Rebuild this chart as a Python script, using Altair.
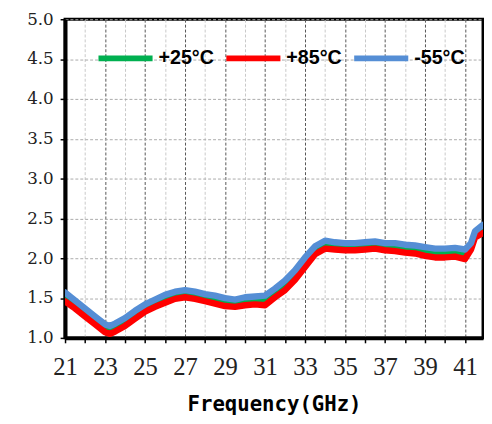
import altair as alt
import pandas as pd

freq = [21.0, 21.5, 22.0, 22.5, 23.0, 23.25, 23.5, 24.0, 24.5, 25.0, 25.5, 26.0, 26.5, 27.0,
        27.5, 28.0, 28.5, 29.0, 29.5, 30.0, 30.5, 31.0, 31.5, 32.0, 32.5, 33.0, 33.5, 34.0,
        34.5, 35.0, 35.5, 36.0, 36.5, 37.0, 37.5, 38.0, 38.5, 39.0, 39.5, 40.0, 40.5, 41.0,
        41.3, 41.5, 41.9]

vswr_m55 = [1.57, 1.47, 1.37, 1.27, 1.17, 1.15, 1.18, 1.25, 1.34, 1.42, 1.48, 1.54, 1.58, 1.60,
            1.58, 1.55, 1.53, 1.50, 1.48, 1.51, 1.52, 1.53, 1.62, 1.72, 1.85, 2.01, 2.15, 2.22,
            2.20, 2.19, 2.19, 2.20, 2.21, 2.19, 2.19, 2.17, 2.16, 2.14, 2.12, 2.12, 2.13, 2.11,
            2.19, 2.34, 2.42]

vswr_p25 = [1.52, 1.42, 1.32, 1.22, 1.12, 1.10, 1.13, 1.20, 1.29, 1.37, 1.43, 1.49, 1.53, 1.55,
            1.53, 1.50, 1.48, 1.45, 1.43, 1.46, 1.47, 1.48, 1.57, 1.67, 1.80, 1.96, 2.10, 2.17,
            2.15, 2.14, 2.14, 2.15, 2.16, 2.14, 2.14, 2.12, 2.11, 2.09, 2.07, 2.07, 2.08, 2.06,
            2.14, 2.29, 2.37]

vswr_p85 = [1.46, 1.37, 1.27, 1.17, 1.07, 1.05, 1.08, 1.15, 1.24, 1.33, 1.39, 1.44, 1.49, 1.51,
            1.49, 1.46, 1.43, 1.40, 1.39, 1.41, 1.42, 1.41, 1.51, 1.60, 1.73, 1.89, 2.05, 2.12,
            2.11, 2.10, 2.10, 2.11, 2.12, 2.10, 2.09, 2.07, 2.06, 2.03, 2.01, 2.01, 2.02, 1.99,
            2.11, 2.26, 2.32]

series_names = ["+25°C", "+85°C", "-55°C"]
series_colors = ["#00B050", "#FF0000", "#558ED5"]
x_ticks = list(range(21, 42))
y_ticks = [1.0, 1.5, 2.0, 2.5, 3.0, 3.5, 4.0, 4.5, 5.0]

rows = []
for name, vals in zip(series_names, [vswr_p25, vswr_p85, vswr_m55]):
    for f, v in zip(freq, vals):
        rows.append({"freq": f, "vswr": v, "series": name})
df = pd.DataFrame(rows)

chart = alt.Chart(df).mark_line(strokeWidth=6.5, strokeCap="round", strokeJoin="round", clip=True).encode(
    x=alt.X("freq:Q",
            scale=alt.Scale(domain=[21, 41.9], nice=False, zero=False),
            axis=alt.Axis(
                values=x_ticks,
                title="Frequency(GHz)",
                labelExpr="datum.value % 2 == 1 ? datum.label : ''",
                labelFlush=False, labelOverlap=False,
                labelFont="Liberation Serif", labelFontSize=25, labelColor="#222",
                labelPadding=12, tickSize=5, tickColor="black", tickWidth=1.5,
                domainColor="black", domainWidth=4,
                titleFont="DejaVu Sans Mono", titleFontSize=21, titleFontWeight="bold",
                titleColor="black", titlePadding=15,
                gridColor={"condition": {"test": "datum.value % 2 == 1", "value": "#555555"}, "value": "#c8c8c8"},
                gridDash=[3, 2], gridWidth=1,
            )),
    y=alt.Y("vswr:Q",
            scale=alt.Scale(domain=[1, 5], nice=False, zero=False),
            axis=alt.Axis(
                values=y_ticks, format=".1f", title=None,
                labelFont="DejaVu Serif", labelFontSize=17, labelColor="#222",
                labelPadding=7, tickSize=5, tickColor="black", tickWidth=1.5,
                domainColor="black", domainWidth=4,
                gridColor="#aaaaaa", gridDash=[3, 2], gridWidth=1,
            )),
    color=alt.Color("series:N",
                    scale=alt.Scale(domain=series_names, range=series_colors),
                    legend=alt.Legend(
                        title=None, orient="none", legendX=31, legendY=9,
                        direction="horizontal", columns=3,
                        symbolType="stroke", symbolSize=3025, symbolStrokeWidth=6,
                        labelFont="Liberation Sans", labelFontSize=20, labelFontWeight="bold",
                        labelColor="black", labelOffset=3, columnPadding=0,
                    )),
).properties(
    width=425, height=324,
    autosize=alt.AutoSizeParams(type="none"),
    padding={"left": 58, "top": 8, "right": 1, "bottom": 77},
).configure_view(
    stroke="black", strokeWidth=3
)

chart.save("out.html", embed_options={"renderer": "svg", "actions": False})
